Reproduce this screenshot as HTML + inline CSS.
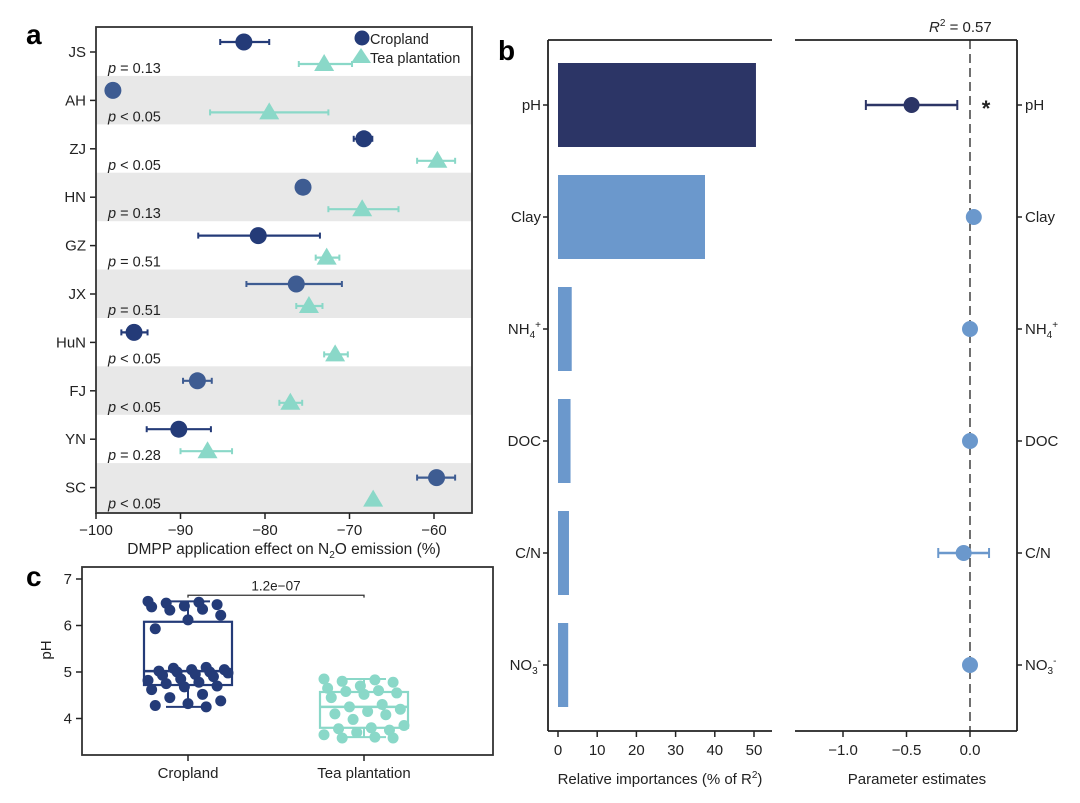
<!DOCTYPE html>
<html><head><meta charset="utf-8">
<style>
html,body{margin:0;padding:0;background:#fff;}
svg{display:block;font-family:"Liberation Sans",Arial,sans-serif;}
</style></head>
<body>
<svg id="fig" width="1080" height="803" viewBox="0 0 1080 803" xmlns="http://www.w3.org/2000/svg">
<text x="26" y="44" font-size="28" font-weight="bold">a</text>
<text x="498" y="60" font-size="28" font-weight="bold">b</text>
<text x="26" y="586" font-size="28" font-weight="bold">c</text>
<g id="pa"></g>
<g id="pb"></g>
<g id="pc"></g>
</svg>
<script>
// ---- Panel a data ----
const siteNames = ["JS","AH","ZJ","HN","GZ","JX","HuN","FJ","YN","SC"];
const cropMean = [-82.5,-98,-68.3,-75.5,-80.8,-76.3,-95.5,-88,-90.2,-59.7];
const cropLo   = [-85.3,-98,-69.5,-75.5,-87.9,-82.2,-97,-89.7,-94,-62];
const cropHi   = [-79.5,-98,-67.3,-75.5,-73.5,-70.9,-93.9,-86.3,-86.4,-57.5];
const teaMean  = [-73,-79.5,-59.6,-68.5,-72.7,-74.8,-71.7,-77,-86.8,-67.2];
const teaLo    = [-76,-86.5,-62,-72.5,-74,-76.3,-73,-78.3,-90,-67.2];
const teaHi    = [-69.7,-72.5,-57.5,-64.2,-71.2,-73.2,-70.2,-75.6,-83.9,-67.2];
const pLabels  = ["= 0.13","< 0.05","< 0.05","= 0.13","= 0.51","= 0.51","< 0.05","< 0.05","= 0.28","< 0.05"];
const aTicks   = [-100,-90,-80,-70,-60];
// ---- Panel b data ----
const bVars = ["pH","Clay","NH4","DOC","C/N","NO3"];
const relImp = [50.5,37.5,3.5,3.2,2.8,2.6];
const estMean = [-0.46,0.03,0.0,0.0,-0.05,0.0];
const estLo = [-0.82,0.0,0.0,0.0,-0.25,0.0];
const estHi = [-0.10,0.06,0.0,0.0,0.15,0.0];
const impTicks = [0,10,20,30,40,50];
const estTicks = [-1.0,-0.5,0.0];
// ---- Panel c data ----
const cropPH = [6.52,6.5,6.48,6.45,6.42,6.4,6.35,6.33,6.22,6.12,5.93,5.1,5.08,5.05,5.05,5.02,5.0,5.0,4.98,4.95,4.93,4.9,4.85,4.82,4.78,4.75,4.7,4.68,4.62,4.52,4.45,4.38,4.32,4.28,4.25];
const teaPH = [4.85,4.83,4.8,4.78,4.7,4.65,4.6,4.58,4.55,4.52,4.45,4.3,4.25,4.2,4.15,4.1,4.08,3.98,3.85,3.8,3.78,3.75,3.7,3.65,3.6,3.58,3.58];
// box summaries: [min, q1, median, q3, max]
const cropBox = [4.25,4.72,5.02,6.08,6.52];
const teaBox = [3.6,3.8,4.25,4.57,4.85];
const cTicks = [4,5,6,7];

const NS="http://www.w3.org/2000/svg";
function mk(parent,tag,attrs,text){const e=document.createElementNS(NS,tag);for(const k in attrs)e.setAttribute(k,attrs[k]);if(text!==undefined)e.textContent=text;parent.appendChild(e);return e;}
const navy="#243b78", navyL="#3e5c92", mint="#8ad8c8", barDark="#2c3566", barL="#6b98cc";

// ===== Panel A =====
(function(){
 const g=document.getElementById('pa');
 const L=96,R=472,T=27,B=513;
 const x=v=>L+(v+100)*(434-96)/40;
 const rowY=i=>52+i*48.4;
 for(let i=0;i<siteNames.length;i++){
   if(i%2===1){
     const y0=rowY(i)-24.5, y1=Math.min(B,rowY(i)+24);
     const r=mk(g,'rect',{x:L,y:y0,width:R-L,height:(i===siteNames.length-1?B-y0:y1-y0),fill:"#e8e8e8"});
     
     
   }
 }
 for(let i=0;i<siteNames.length;i++){
   const ty=rowY(i);
   const t=mk(g,'text',{x:L-10,y:ty+5,'font-size':15,'text-anchor':'end',fill:'#222'},siteNames[i]);
   
   
   mk(g,'line',{x1:L-6,x2:L,y1:ty,y2:ty,stroke:'#222','stroke-width':1.5});
   const p=mk(g,'text',{x:108,y:ty+21,'font-size':14.5,fill:'#222'});
   
   
   mk(p,'tspan',{'font-style':'italic'},'p');
   mk(p,'tspan',{},' '+pLabels[i]);
   const cy=ty-10, col=(i%2===1||i===5)?navyL:navy;
   const cg=mk(g,'g',{});
   
   
   if(cropHi[i]>cropLo[i]){
     mk(cg,'line',{x1:x(cropLo[i]),x2:x(cropHi[i]),y1:cy,y2:cy,stroke:col,'stroke-width':2.2});
     mk(cg,'line',{x1:x(cropLo[i]),x2:x(cropLo[i]),y1:cy-3,y2:cy+3,stroke:col,'stroke-width':2});
     mk(cg,'line',{x1:x(cropHi[i]),x2:x(cropHi[i]),y1:cy-3,y2:cy+3,stroke:col,'stroke-width':2});
   }
   mk(cg,'circle',{cx:x(cropMean[i]),cy:cy,r:8.5,fill:col});
   const ey=ty+12;
   const tg=mk(g,'g',{});
   
   
   if(teaHi[i]>teaLo[i]){
     mk(tg,'line',{x1:x(teaLo[i]),x2:x(teaHi[i]),y1:ey,y2:ey,stroke:mint,'stroke-width':2.2});
     mk(tg,'line',{x1:x(teaLo[i]),x2:x(teaLo[i]),y1:ey-3,y2:ey+3,stroke:mint,'stroke-width':2});
     mk(tg,'line',{x1:x(teaHi[i]),x2:x(teaHi[i]),y1:ey-3,y2:ey+3,stroke:mint,'stroke-width':2});
   }
   const mx=x(teaMean[i]);
   mk(tg,'polygon',{points:`${mx},${ey-10} ${mx-10},${ey+7} ${mx+10},${ey+7}`,fill:mint});
 }
 const fr=mk(g,'rect',{x:L,y:T,width:R-L,height:B-T,fill:'none',stroke:'#333','stroke-width':1.8});
 
 
 aTicks.forEach(v=>{
   mk(g,'line',{x1:x(v),x2:x(v),y1:B,y2:B+6,stroke:'#222','stroke-width':1.5});
   const t=mk(g,'text',{x:x(v),y:B+22,'font-size':15,'text-anchor':'middle',fill:'#222'},String(v).replace('-','\u2212'));
   
   
 });
 const xt=mk(g,'text',{x:284,y:554,'font-size':15.5,'text-anchor':'middle',fill:'#222'});
 
 
 mk(xt,'tspan',{},'DMPP application effect on N');
 mk(xt,'tspan',{'font-size':10,dy:4},'2');
 mk(xt,'tspan',{dy:-4},'O emission (%)');
 const lg=mk(g,'g',{});
 
 
 mk(lg,'circle',{cx:362,cy:38,r:7.5,fill:navy});
 mk(lg,'text',{x:370,y:44,'font-size':14.5,fill:'#222'},'Cropland');
 mk(lg,'polygon',{points:'361,48 351,63 371,63',fill:mint});
 mk(lg,'text',{x:370,y:63,'font-size':14.5,fill:'#222'},'Tea plantation');
})();

// ===== Panel B =====
(function(){
 const g=document.getElementById('pb');
 const T=40,B=731,L1=548,R1=772,L2=795,R2=1017;
 const xi=v=>558+v*(754-558)/50;
 const xe=v=>970+v*127;
 const rowY=i=>105+i*112;
 mk(g,'line',{x1:L1,x2:L1,y1:T,y2:B,stroke:'#222','stroke-width':1.8});
 mk(g,'line',{x1:L1,x2:R1,y1:T,y2:T,stroke:'#222','stroke-width':1.8});
 mk(g,'line',{x1:L1,x2:R1,y1:B,y2:B,stroke:'#222','stroke-width':1.8});
 mk(g,'line',{x1:R2,x2:R2,y1:T,y2:B,stroke:'#222','stroke-width':1.8});
 mk(g,'line',{x1:L2,x2:R2,y1:T,y2:T,stroke:'#222','stroke-width':1.8});
 mk(g,'line',{x1:L2,x2:R2,y1:B,y2:B,stroke:'#222','stroke-width':1.8});
 mk(g,'line',{x1:xe(0),x2:xe(0),y1:T,y2:B,stroke:'#222','stroke-width':1.3,'stroke-dasharray':'9,5'});
 const r2=mk(g,'text',{x:929,y:32,'font-size':15,fill:'#222'});
 
 
 mk(r2,'tspan',{'font-style':'italic'},'R');
 mk(r2,'tspan',{'font-size':10,dy:-6},'2');
 mk(r2,'tspan',{dy:6},' = 0.57');
 function lab(parent,xx,yy,anchor,name){
   const t=mk(parent,'text',{x:xx,y:yy,'font-size':15,'text-anchor':anchor,fill:'#222'});
   if(name==='NH4'){mk(t,'tspan',{},'NH');mk(t,'tspan',{'font-size':10,dy:4},'4');mk(t,'tspan',{'font-size':10,dy:-10},'+');}
   else if(name==='NO3'){mk(t,'tspan',{},'NO');mk(t,'tspan',{'font-size':10,dy:4},'3');mk(t,'tspan',{'font-size':10,dy:-10},'-');}
   else t.textContent=name;
   return t;
 }
 for(let i=0;i<bVars.length;i++){
   const y=rowY(i), col=i===0?barDark:barL;
   const bar=mk(g,'rect',{x:xi(0),y:y-42,width:xi(relImp[i])-xi(0),height:84,fill:col});
   
   
   mk(g,'line',{x1:L1-5,x2:L1,y1:y,y2:y,stroke:'#222','stroke-width':1.5});
   mk(g,'line',{x1:R2,x2:R2+5,y1:y,y2:y,stroke:'#222','stroke-width':1.5});
   const tl=lab(g,L1-7,y+5,'end',bVars[i]);
   
   
   const tr=lab(g,R2+8,y+5,'start',bVars[i]);
   
   
   const eg=mk(g,'g',{});
   
   
   if(estHi[i]>estLo[i]){
     mk(eg,'line',{x1:xe(estLo[i]),x2:xe(estHi[i]),y1:y,y2:y,stroke:col,'stroke-width':2.5});
     mk(eg,'line',{x1:xe(estLo[i]),x2:xe(estLo[i]),y1:y-5,y2:y+5,stroke:col,'stroke-width':2});
     mk(eg,'line',{x1:xe(estHi[i]),x2:xe(estHi[i]),y1:y-5,y2:y+5,stroke:col,'stroke-width':2});
   }
   mk(eg,'circle',{cx:xe(estMean[i]),cy:y,r:8,fill:col});
 }
 const st=mk(g,'text',{x:986,y:116,'font-size':22,'font-weight':'bold','text-anchor':'middle',fill:'#222'},'*');
 
 
 impTicks.forEach(v=>{
   mk(g,'line',{x1:xi(v),x2:xi(v),y1:B,y2:B+6,stroke:'#222','stroke-width':1.5});
   const t=mk(g,'text',{x:xi(v),y:B+24,'font-size':15,'text-anchor':'middle',fill:'#222'},String(v));
   
   
 });
 estTicks.forEach(v=>{
   mk(g,'line',{x1:xe(v),x2:xe(v),y1:B,y2:B+6,stroke:'#222','stroke-width':1.5});
   const t=mk(g,'text',{x:xe(v),y:B+24,'font-size':15,'text-anchor':'middle',fill:'#222'},v.toFixed(1).replace('-','\u2212'));
   
   
 });
 const t1=mk(g,'text',{x:660,y:784,'font-size':15,'text-anchor':'middle',fill:'#222'});
 
 
 mk(t1,'tspan',{},'Relative importances (% of R');
 mk(t1,'tspan',{'font-size':10,dy:-6},'2');
 mk(t1,'tspan',{dy:6},')');
 const t2=mk(g,'text',{x:917,y:784,'font-size':15,'text-anchor':'middle',fill:'#222'},'Parameter estimates');
 
 
})();

// ===== Panel C =====
(function(){
 const g=document.getElementById('pc');
 const L=82,R=493,T=567,B=755;
 const y=v=>672-(v-5)*46.5;
 const fr=mk(g,'rect',{x:L,y:T,width:R-L,height:B-T,fill:'none',stroke:'#333','stroke-width':1.8});
 
 
 cTicks.forEach(v=>{
   mk(g,'line',{x1:L-6,x2:L,y1:y(v),y2:y(v),stroke:'#222','stroke-width':1.5});
   const t=mk(g,'text',{x:L-10,y:y(v)+5,'font-size':15,'text-anchor':'end',fill:'#222'},String(v));
   
   
 });
 const yl=mk(g,'text',{x:0,y:0,'font-size':15,'text-anchor':'middle',fill:'#222',transform:'translate(51,650) rotate(-90)'},'pH');
 
 
 function box(arr,st,cx,col,name){
   const bg=mk(g,'g',{});
   
   
   const [mn,q1,md,q3,mx]=st;
   const hw=44;
   mk(bg,'line',{x1:cx,x2:cx,y1:y(mx),y2:y(q3),stroke:col,'stroke-width':2});
   mk(bg,'line',{x1:cx,x2:cx,y1:y(q1),y2:y(mn),stroke:col,'stroke-width':2});
   mk(bg,'line',{x1:cx-22,x2:cx+22,y1:y(mx),y2:y(mx),stroke:col,'stroke-width':2});
   mk(bg,'line',{x1:cx-22,x2:cx+22,y1:y(mn),y2:y(mn),stroke:col,'stroke-width':2});
   mk(bg,'rect',{x:cx-hw,y:y(q3),width:2*hw,height:y(q1)-y(q3),fill:'none',stroke:col,'stroke-width':2.2});
   mk(bg,'line',{x1:cx-hw,x2:cx+hw,y1:y(md),y2:y(md),stroke:col,'stroke-width':2.5});
   arr.forEach((v,i)=>{
     const off=(((i*37)%23)/22-0.5)*80;
     const c=mk(bg,'circle',{cx:cx+off,cy:y(v),r:5.5,fill:col});
     
     
   });
 }
 box(cropPH,cropBox,188,navy,'cropland');
 box(teaPH,teaBox,364,mint,'tea');
 const br=mk(g,'path',{d:`M188,${y(6.6)} V${y(6.65)} H364 V${y(6.6)}`,fill:'none',stroke:'#333','stroke-width':1.3});
 
 
 const pv=mk(g,'text',{x:276,y:y(6.65)-5,'font-size':13.5,'text-anchor':'middle',fill:'#222'},'1.2e\u221207');
 
 
 [[188,'Cropland'],[364,'Tea plantation']].forEach(([cx,s])=>{
   mk(g,'line',{x1:cx,x2:cx,y1:B,y2:B+6,stroke:'#222','stroke-width':1.5});
   const t=mk(g,'text',{x:cx,y:778,'font-size':15,'text-anchor':'middle',fill:'#222'},s);
   
   
 });
})();
</script>
</body></html>
